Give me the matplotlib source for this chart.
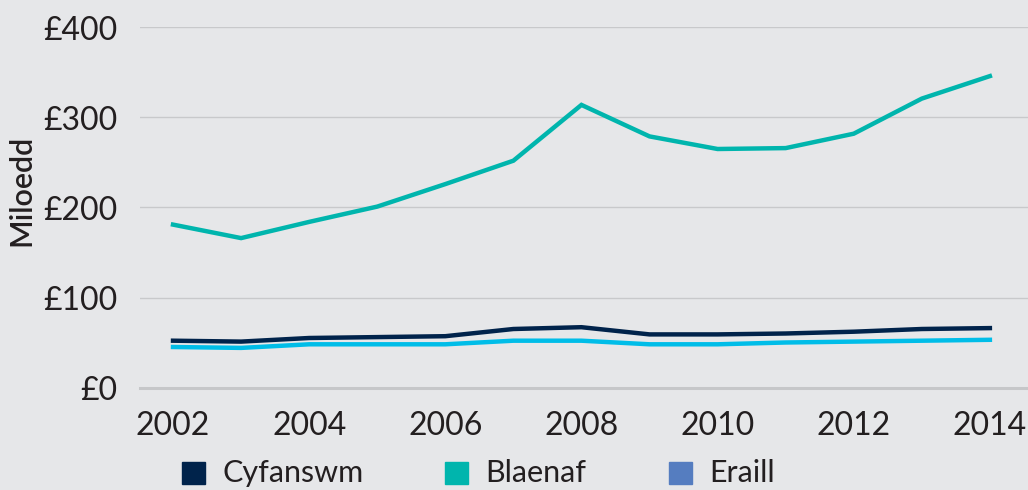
import numpy as np
import matplotlib.pyplot as plt
from matplotlib.patches import Rectangle

plt.rcParams['font.family'] = ['Lato', 'DejaVu Sans']

# Data (thousands of pounds)
years = np.arange(2002, 2015)
cyfanswm = [52, 51, 55, 56, 57, 65, 67, 59, 59, 60, 62, 65, 66]
blaenaf = [181, 166, 184, 201, 226, 252, 314, 279, 265, 266, 282, 321, 346]
eraill = [45, 44, 48, 48, 48, 52, 52, 48, 48, 50, 51, 52, 53]

y_ticks = [0, 100, 200, 300, 400]
y_labels = ['£0', '£100', '£200', '£300', '£400']
x_ticks = [2002, 2004, 2006, 2008, 2010, 2012, 2014]

legend_labels = ['Cyfanswm', 'Blaenaf', 'Eraill']
legend_colors = ['#00234b', '#00b5ad', '#557dc0']

bg = '#e6e7e9'
txt = '#231f20'
W, H = 1028, 490

fig = plt.figure(figsize=(W/100, H/100), dpi=100, facecolor=bg)
ax = fig.add_axes([140/W, 1 - 387.5/H, (W - 140)/W, 360/H])
ax.set_facecolor(bg)

ax.plot(years, blaenaf, color='#00b5ad', linewidth=3.2, solid_joinstyle='miter', zorder=3)
ax.plot(years, eraill, color='#00bde8', linewidth=3.2, solid_joinstyle='miter', zorder=3)
ax.plot(years, cyfanswm, color='#00234b', linewidth=3.2, solid_joinstyle='miter', zorder=4)

ax.set_xlim(2001.515, 2014.56)
ax.set_ylim(0, 400)
ax.set_yticks(y_ticks)
ax.set_yticklabels(y_labels)
ax.set_xticks(x_ticks)
for s in ['top', 'right', 'left']:
    ax.spines[s].set_visible(False)
ax.spines['bottom'].set_color('#c6c7c9')
ax.spines['bottom'].set_linewidth(2.2)
ax.grid(axis='y', color='#c8c9cb', linewidth=1)
ax.set_axisbelow(True)
ax.tick_params(axis='both', length=0, labelsize=23, labelcolor=txt)
ax.tick_params(axis='y', pad=16)
ax.tick_params(axis='x', pad=17)

fig.text(21/W, 1 - 190/H, 'Miloedd', rotation=90, ha='center', va='center',
         fontsize=22, fontweight='semibold', color=txt)

# Legend
patch_x = [182, 445, 669]
for px, lab, col in zip(patch_x, legend_labels, legend_colors):
    fig.add_artist(Rectangle((px/W, 1 - 484/H), 23/W, 22/H, color=col,
                             transform=fig.transFigure))
    fig.text((px + 40)/W, 1 - 473/H, lab, ha='left', va='center',
             fontsize=22, color=txt)

fig.savefig('out.png', dpi=100, facecolor=bg)
